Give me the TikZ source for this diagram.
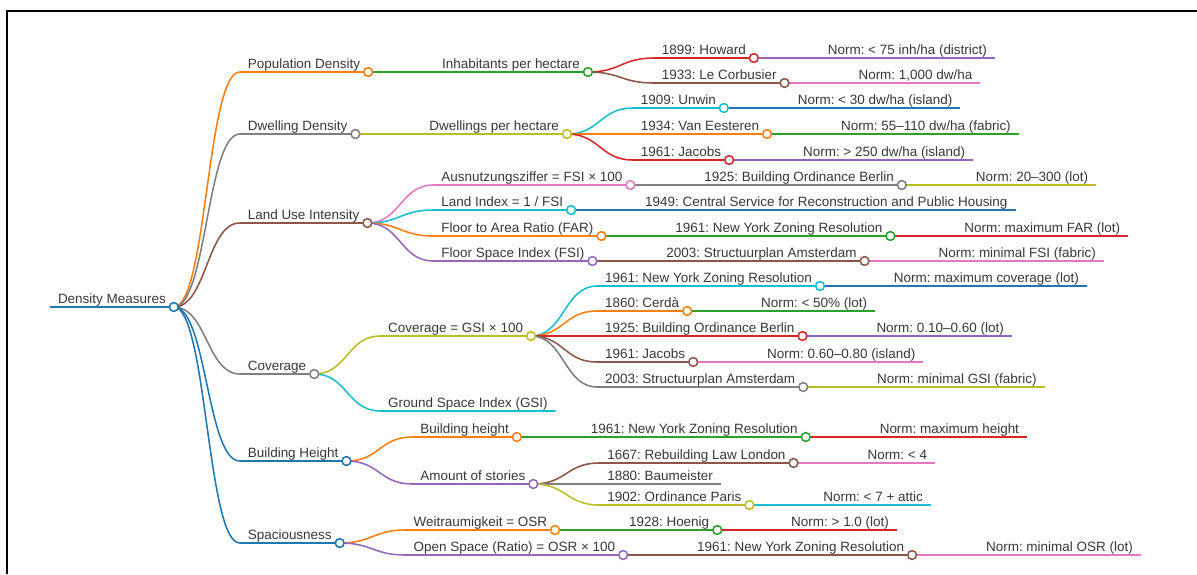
\documentclass[tikz,border=0pt]{standalone}
\usepackage{fontspec}
\setmainfont{Liberation Sans}
\usetikzlibrary{calc}

\definecolor{cblue}{HTML}{1F77B4}
\definecolor{corange}{HTML}{FF7F0E}
\definecolor{cgreen}{HTML}{2CA02C}
\definecolor{cred}{HTML}{D62728}
\definecolor{cpurple}{HTML}{9467BD}
\definecolor{cbrown}{HTML}{8C564B}
\definecolor{cpink}{HTML}{E377C2}
\definecolor{cgray}{HTML}{7F7F7F}
\definecolor{colive}{HTML}{BCBD22}
\definecolor{ccyan}{HTML}{17BECF}
\definecolor{ctext}{HTML}{383838}

\tikzset{
  lbl/.style={anchor=south west, inner xsep=0.2cm, inner ysep=0.1cm, outer sep=0pt,
    text depth=0pt, text=ctext, font=\fontsize{9.58}{11}\selectfont\frenchspacing},
  branch/.style={draw=#1, line width=1.1pt},
  knob/.style={circle, draw=#1, fill=white, line width=1.1pt, inner sep=0pt, minimum size=0.22cm}
}

\begin{document}
\begin{tikzpicture}[x=0.025cm, y=-0.025cm]
\useasboundingbox (0,0) rectangle (1197,574);
\draw[line width=1.8pt] (7,574) -- (7,11) -- (1197,11);

\node[lbl] (dm) at (50,307) {Density Measures};
\draw[branch=cblue] (dm.south west) -- (dm.south east);
\foreach \n/\p/\y/\c/\t in {
  pd/dm/72/corange/Population Density,
  iph/pd/72/cgreen/Inhabitants per hectare,
  how/iph/58/cred/1899: Howard,
  how-n/how/58/cpurple/{Norm: < 75 inh/ha (district)},
  lec/iph/83/cbrown/1933: Le Corbusier,
  lec-n/lec/83/cpink/{Norm: 1,000 dw/ha},
  dd/dm/134/cgray/Dwelling Density,
  dph/dd/134/colive/Dwellings per hectare,
  unw/dph/108/ccyan/1909: Unwin,
  unw-n/unw/108/cblue/{Norm: < 30 dw/ha (island)},
  vee/dph/134/corange/1934: Van Eesteren,
  vee-n/vee/134/cgreen/{Norm: 55–110 dw/ha (fabric)},
  jac/dph/160/cred/1961: Jacobs,
  jac-n/jac/160/cpurple/{Norm: > 250 dw/ha (island)},
  lui/dm/223/cbrown/Land Use Intensity,
  anz/lui/185/cpink/Ausnutzungsziffer = FSI × 100,
  bob/anz/185/cgray/1925: Building Ordinance Berlin,
  bob-n/bob/185/colive/Norm: 20–300 (lot),
  li/lui/210/ccyan/{Land Index = 1 / FSI},
  csr/li/210/cblue/1949: Central Service for Reconstruction and Public Housing,
  far/lui/236/corange/Floor to Area Ratio (FAR),
  nyz/far/236/cgreen/1961: New York Zoning Resolution,
  nyz-n/nyz/236/cred/Norm: maximum FAR (lot),
  fsi/lui/261/cpurple/Floor Space Index (FSI),
  spa/fsi/261/cbrown/2003: Structuurplan Amsterdam,
  spa-n/spa/261/cpink/Norm: minimal FSI (fabric),
  cov/dm/374/cgray/Coverage,
  gsi/cov/336/colive/Coverage = GSI × 100,
  gnyz/gsi/286/ccyan/1961: New York Zoning Resolution,
  gnyz-n/gnyz/286/cblue/Norm: maximum coverage (lot),
  cer/gsi/311/corange/1860: Cerdà,
  cer-n/cer/311/cgreen/Norm: < 50\% (lot),
  gbob/gsi/336/cred/1925: Building Ordinance Berlin,
  gbob-n/gbob/336/cpurple/Norm: 0.10–0.60 (lot),
  gjac/gsi/362/cbrown/1961: Jacobs,
  gjac-n/gjac/362/cpink/Norm: 0.60–0.80 (island),
  gspa/gsi/387/cgray/2003: Structuurplan Amsterdam,
  gspa-n/gspa/387/colive/Norm: minimal GSI (fabric),
  gsx/cov/411/ccyan/Ground Space Index (GSI),
  bh/dm/461/cblue/Building Height,
  bhl/bh/437/corange/Building height,
  hnyz/bhl/437/cgreen/1961: New York Zoning Resolution,
  hnyz-n/hnyz/437/cred/Norm: maximum height,
  aos/bh/484/cpurple/Amount of stories,
  rll/aos/463/cbrown/1667: Rebuilding Law London,
  rll-n/rll/463/cpink/Norm: < 4,
  bau/aos/484/cgray/1880: Baumeister,
  opa/aos/505/colive/1902: Ordinance Paris,
  opa-n/opa/505/ccyan/Norm: < 7 + attic,
  sp/dm/543/cblue/Spaciousness,
  wr/sp/530/corange/Weitraumigkeit = OSR,
  hoe/wr/530/cgreen/1928: Hoenig,
  hoe-n/hoe/530/cred/Norm: > 1.0 (lot),
  osr/sp/555/cpurple/Open Space (Ratio) = OSR × 100,
  onyz/osr/555/cbrown/1961: New York Zoning Resolution,
  onyz-n/onyz/555/cpink/Norm: minimal OSR (lot)}
{
  \node[lbl] (\n) at ($(\p.south east |- 0,\y)+(66,0)$) {\t};
  \draw[branch=\c] (\p.south east) .. controls +(33,0) and +(-33,0) .. (\n.south west) -- (\n.south east);
}
\foreach \n/\c in {dm/cblue, pd/corange, iph/cgreen, how/cred, lec/cbrown, dd/cgray, dph/colive,
  unw/ccyan, vee/corange, jac/cred, lui/cbrown, anz/cpink, bob/cgray, li/ccyan, far/corange,
  nyz/cgreen, fsi/cpurple, spa/cbrown, cov/cgray, gsi/colive, gnyz/ccyan, cer/corange, gbob/cred,
  gjac/cbrown, gspa/cgray, bh/cblue, bhl/corange, hnyz/cgreen, aos/cpurple, rll/cbrown, opa/colive,
  sp/cblue, wr/corange, hoe/cgreen, osr/cpurple, onyz/cbrown}
  \node[knob=\c] (\n-c) at (\n.south east) {};
\end{tikzpicture}
\end{document}
